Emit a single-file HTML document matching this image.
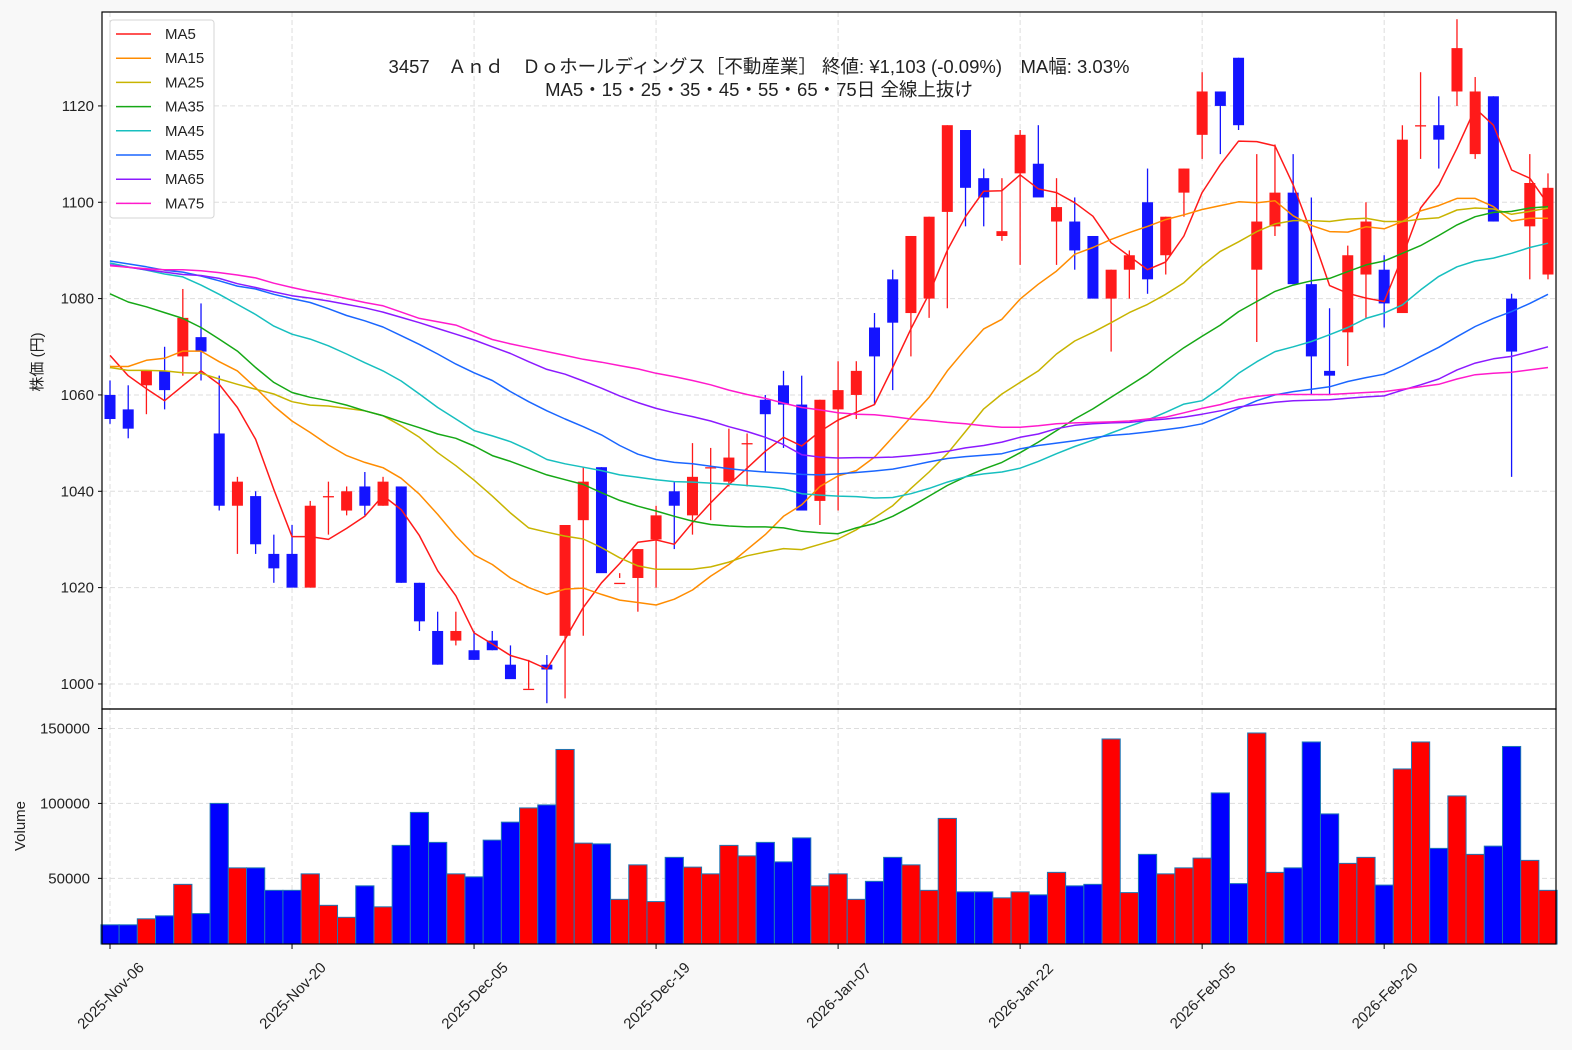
<!DOCTYPE html>
<html><head><meta charset="utf-8">
<style>
html,body{margin:0;padding:0;background:#f8f8f8;}
svg{display:block;font-family:"Liberation Sans","Noto Sans CJK JP",sans-serif;}
</style></head>
<body>
<svg id="chart" width="1572" height="1050" viewBox="0 0 1572 1050" xmlns="http://www.w3.org/2000/svg">
<rect x="0" y="0" width="1572" height="1050" fill="#f8f8f8"/>
<rect x="102" y="12" width="1454" height="697" fill="#ffffff"/>
<rect x="102" y="709" width="1454" height="235" fill="#ffffff"/>
<g id="grid"></g>
<g id="vol"></g>
<g id="candles"></g>
<g id="ma"></g>
<g id="axes"></g>
<g id="legend"></g>
<text x="759" y="73" text-anchor="middle" font-size="18.5" fill="#222">3457　Ａｎｄ　Ｄｏホールディングス［不動産業］ 終値: ¥1,103 (-0.09%)　MA幅: 3.03%</text>
<text x="759" y="96" text-anchor="middle" font-size="18.5" fill="#222">MA5・15・25・35・45・55・65・75日 全線上抜け</text>
<text transform="translate(42,362) rotate(-90)" text-anchor="middle" font-size="15" fill="#222">株価 (円)</text>
<text transform="translate(25,826) rotate(-90)" text-anchor="middle" font-size="15" fill="#222">Volume</text>
</svg>
<script>
const openP=[1060,1057,1062,1065,1068,1072,1052,1037,1039,1027,1027,1020,1039,1036,1041,1037,1041,1021,1011,1009,1007,1009,1004,999,1004,1010,1034,1045,1021,1022,1030,1040,1035,1045,1042,1050,1059,1062,1058,1038,1057,1060,1074,1084,1077,1080,1098,1115,1105,1093,1106,1108,1096,1096,1093,1080,1086,1100,1089,1102,1114,1123,1130,1086,1095,1102,1083,1065,1073,1085,1086,1077,1116,1116,1123,1110,1122,1080,1095,1085];
const closeP=[1055,1053,1065,1061,1076,1069,1037,1042,1029,1024,1020,1037,1039,1040,1037,1042,1021,1013,1004,1011,1005,1007,1001,999,1003,1033,1042,1023,1021,1028,1035,1037,1043,1045,1047,1050,1056,1058,1036,1059,1061,1065,1068,1075,1093,1097,1116,1103,1101,1094,1114,1101,1099,1090,1080,1086,1089,1084,1097,1107,1123,1120,1116,1096,1102,1083,1068,1064,1089,1096,1079,1113,1116,1113,1132,1123,1096,1069,1104,1103];
const highP=[1063,1062,1065,1070,1082,1079,1064,1043,1040,1031,1033,1038,1042,1041,1044,1043,1041,1021,1015,1015,1011,1011,1008,1005,1006,1033,1045,1045,1023,1028,1037,1042,1050,1049,1053,1052,1060,1065,1064,1059,1067,1067,1077,1086,1093,1097,1116,1115,1107,1105,1115,1116,1105,1101,1093,1086,1090,1107,1097,1107,1127,1123,1130,1110,1112,1110,1101,1078,1091,1100,1089,1116,1127,1122,1138,1126,1122,1081,1110,1106];
const lowP=[1054,1051,1056,1057,1064,1063,1036,1027,1027,1021,1020,1020,1031,1035,1035,1037,1021,1011,1004,1008,1005,1007,1002,999,996,997,1010,1033,1022,1015,1020,1028,1031,1034,1041,1041,1044,1049,1048,1033,1036,1055,1058,1061,1068,1076,1078,1095,1095,1092,1087,1106,1087,1086,1080,1069,1080,1081,1085,1097,1109,1110,1115,1071,1093,1083,1060,1060,1066,1076,1074,1077,1109,1107,1120,1109,1096,1043,1084,1084];
const volumes=[19000,19000,23000,25000,46000,26500,100000,57000,57000,42000,42000,53000,32000,24000,45000,31000,72000,94000,74000,53000,51000,75500,87500,97000,99000,136000,73500,73000,36000,59000,34500,64000,57500,53000,72000,65000,74000,61000,77000,45000,53000,36000,48000,64000,59000,42000,90000,41000,41000,37000,41000,39000,54000,45000,46000,143000,40500,66000,53000,57000,63500,107000,46500,147000,54000,57000,141000,93000,60000,64000,45500,123000,141000,70000,105000,66000,71500,138000,62000,42000];
const ma5=[1068.2,1064,1061.3,1058.8,1061.9,1065,1062.2,1057.4,1050.8,1040.4,1030.6,1030.6,1030,1032.3,1034.8,1039.1,1036.2,1030.8,1023.5,1018.3,1010.6,1008.3,1005.9,1004.8,1003.1,1009.3,1015.9,1021,1025,1029.4,1029.9,1029,1033.5,1037.6,1041.4,1044.8,1048.3,1051.2,1049.4,1052.4,1054.8,1056.4,1058,1065.7,1073.7,1081,1090,1097,1102.3,1102.4,1105.7,1102.8,1102,1099.9,1097.1,1091.6,1088.8,1086,1087.6,1093,1102,1107.8,1112.7,1112.6,1111.7,1103.6,1093.6,1082.7,1081.1,1080.1,1079.4,1088.7,1098.8,1103.6,1111.2,1119.5,1116,1106.7,1105,1099.6];
const ma15=[1065.9,1065.9,1067.2,1067.6,1069.1,1069.1,1066.9,1065,1061.5,1057.7,1054.6,1052.2,1049.6,1047.4,1046,1044.9,1042.7,1039.4,1035.2,1030.7,1026.8,1024.8,1022,1020,1018.6,1019.7,1019.9,1018.6,1017.4,1016.9,1016.4,1017.6,1019.5,1022.4,1024.8,1027.9,1031,1034.8,1037.2,1041,1043.2,1044.3,1047.1,1051.2,1055.4,1059.5,1065,1069.5,1073.7,1075.7,1079.9,1083,1085.7,1089.2,1090.6,1092.3,1093.7,1095,1096.4,1097.4,1098.5,1099.3,1100.1,1099.9,1100.3,1097.2,1095.2,1093.9,1093.8,1094.9,1094.5,1096,1098.2,1099.3,1100.8,1100.8,1099.1,1096.1,1096.7,1096.7];
const ma25=[1065.7,1065.1,1065.1,1065,1064.6,1064.5,1063.3,1062.2,1061.2,1060.2,1058.6,1057.9,1057.7,1057.2,1056.7,1055.7,1053.6,1051.2,1048,1045.3,1042.3,1039,1035.5,1032.4,1031.5,1030.7,1030.1,1028.3,1026.2,1024.5,1023.8,1023.8,1023.8,1024.3,1025.3,1026.6,1027.4,1028.1,1027.9,1029,1030.1,1032,1034.5,1037,1040.6,1044,1047.8,1052.4,1057.1,1060.2,1062.6,1065,1068.5,1071.2,1073,1075,1077.1,1078.8,1080.9,1083.3,1086.8,1089.8,1091.8,1093.9,1095.5,1096.2,1096.2,1096,1096.5,1096.7,1096,1096,1096.5,1096.8,1098.4,1098.8,1098.6,1097.5,1098.1,1098.8];
const ma35=[1081,1079.3,1078.3,1077.1,1075.9,1074,1071.6,1069.1,1065.7,1062.6,1060.5,1059.5,1058.8,1057.9,1056.7,1055.7,1054.4,1053.2,1051.9,1051,1049.4,1047.4,1046.2,1044.8,1043.4,1042.4,1041.4,1039.7,1038.1,1036.9,1035.9,1034.8,1033.8,1033.1,1032.8,1032.6,1032.6,1032.4,1031.7,1031.4,1031.2,1032.4,1033.3,1034.8,1036.8,1039,1041.2,1043,1044.6,1046,1048,1050.2,1052.6,1055,1057.1,1059.5,1061.9,1064.3,1067.1,1069.8,1072.2,1074.5,1077.3,1079.4,1081.5,1082.8,1083.7,1084.2,1085.6,1087,1087.8,1089.4,1091,1093.1,1095.3,1097,1097.9,1098.1,1098.8,1099.1];
const ma45=[1087.4,1086.6,1085.9,1085.1,1084.5,1082.8,1080.9,1078.8,1076.7,1074.3,1072.6,1071.6,1070.2,1068.5,1066.7,1065,1062.9,1060.2,1057.4,1055,1052.6,1051.5,1050.3,1048.6,1046.6,1045.7,1045,1044.3,1043.4,1042.9,1042.4,1042,1041.9,1041.7,1041.5,1041.2,1040.9,1040.5,1039.5,1039.2,1039,1038.9,1038.6,1038.7,1039.5,1040.6,1041.9,1043,1043.6,1044,1044.8,1046.2,1047.8,1049.3,1050.6,1052.1,1053.5,1054.8,1056.4,1058.1,1058.8,1061.4,1064.5,1066.9,1069,1070,1071.1,1072.5,1074,1075.9,1077,1078.7,1081.8,1084.6,1086.6,1087.8,1088.4,1089.4,1090.6,1091.5];
const ma55=[1087.8,1087.2,1086.6,1085.9,1085.5,1084.7,1083.7,1082.6,1082,1080.9,1080,1079.2,1077.9,1076.5,1075.4,1074.1,1072.3,1070.5,1068.5,1066.4,1064.6,1063,1060.7,1058.6,1056.7,1055,1053.4,1051.7,1049.5,1047.7,1046.6,1046,1045.7,1045.2,1044.7,1044.3,1044,1043.8,1043.5,1043.4,1043.6,1043.9,1044.2,1044.6,1045.3,1046.1,1046.8,1047.2,1047.5,1047.8,1048.8,1049.5,1050,1050.5,1051.1,1051.6,1051.9,1052.3,1052.8,1053.3,1054,1055.5,1057.2,1058.8,1060,1060.7,1061.2,1061.7,1062.8,1063.6,1064.3,1066,1068,1069.9,1072.1,1074.2,1075.9,1077.3,1079,1080.9];
const ma65=[1087,1086.5,1086,1085.5,1085,1084.8,1084.2,1083.1,1082.3,1081.4,1080.6,1080.1,1079.5,1078.8,1078.1,1077.2,1076.1,1075,1073.8,1072.6,1071.4,1070,1068.6,1066.9,1065.3,1064.3,1062.9,1061.4,1059.8,1058.4,1057.2,1056.3,1055.5,1054.6,1053.4,1052.4,1051.2,1049.7,1047.6,1047.1,1046.9,1047,1047,1047.1,1047.4,1047.8,1048.3,1049,1049.5,1050.2,1051.2,1051.9,1053,1053.7,1054,1054.2,1054.3,1054.7,1055,1055.4,1056,1056.7,1057.5,1058,1058.5,1058.8,1058.9,1059,1059.3,1059.6,1059.8,1061,1062.1,1063.3,1065.2,1066.6,1067.5,1068,1069,1070];
const ma75=[1086.8,1086.5,1086.2,1086,1086,1085.8,1085.4,1084.9,1084.3,1083.2,1082.3,1081.5,1080.8,1080,1079.2,1078.5,1077.2,1075.9,1075.2,1074.5,1073,1071.5,1070.6,1069.8,1069,1068.2,1067.4,1066.8,1066.1,1065.4,1064.5,1063.8,1063,1062.1,1061,1060.1,1059.3,1058.3,1057.4,1056.9,1056.3,1056,1055.9,1055.5,1055,1054.7,1054.3,1054,1053.6,1053.3,1053.3,1053.6,1054,1054.2,1054.3,1054.4,1054.6,1055,1055.4,1056.3,1057.2,1058,1059.1,1059.7,1060.1,1060.1,1060.1,1060.1,1060.3,1060.5,1060.7,1061.2,1061.7,1062.2,1063.3,1064.2,1064.5,1064.7,1065.2,1065.7];
const maNames=["MA5","MA15","MA25","MA35","MA45","MA55","MA65","MA75"];
const maColors=["#ff1a1a","#ff8c00","#c8b400","#16a816","#17bfbf","#1a66ff","#8c1aff","#ff1acc"];
const priceTicks=[1000,1020,1040,1060,1080,1100,1120];
const volTicks=[50000,100000,150000];
const dateLabels=["2025-Nov-06","2025-Nov-20","2025-Dec-05","2025-Dec-19","2026-Jan-07","2026-Jan-22","2026-Feb-05","2026-Feb-20"];
const dateIdx=[0,10,20,30,40,50,60,70];

const NS="http://www.w3.org/2000/svg";
const L=102,R=1556,PT=12,PB=709,VT=709,VB=944;
const xMin=-0.44,xMax=79.44;
const yMin=994.8,yMax=1139.5;
const vMin=6200,vMax=163000;
const xs=i=>L+(i-xMin)/(xMax-xMin)*(R-L);
const yp=p=>PB-(p-yMin)/(yMax-yMin)*(PB-PT);
const yv=v=>VB-(v-vMin)/(vMax-vMin)*(VB-VT);
const step=(R-L)/(xMax-xMin);
function mk(tag,attrs,parent){const e=document.createElementNS(NS,tag);for(const k in attrs)e.setAttribute(k,attrs[k]);parent.appendChild(e);return e;}
const g=id=>document.getElementById(id);

const grid=g('grid');
priceTicks.forEach(t=>{const l=mk('line',{x1:L,x2:R,y1:yp(t),y2:yp(t),stroke:'#dddddd','stroke-dasharray':'5,3','stroke-width':1},grid);

});
volTicks.forEach(t=>{const l=mk('line',{x1:L,x2:R,y1:yv(t),y2:yv(t),stroke:'#dddddd','stroke-dasharray':'5,3','stroke-width':1},grid);

});
dateIdx.forEach(i=>{[[PT,PB],[VT,VB]].forEach(r=>{const l=mk('line',{x1:xs(i),x2:xs(i),y1:r[0],y2:r[1],stroke:'#dddddd','stroke-dasharray':'5,3','stroke-width':1},grid);

});});

const vol=g('vol');
volumes.forEach((v,i)=>{const up=closeP[i]>=openP[i];const y=yv(v);
const b=mk('rect',{x:xs(i)-step/2,y:y,width:step,height:VB-y,fill:up?'#ff0000':'#0000ff',stroke:'#1f77b4','stroke-width':1},vol);

});

const cg=g('candles');
openP.forEach((o,i)=>{const c=closeP[i];const up=c>=o;const col=up?'#ff1a1a':'#1414ff';const x=xs(i);
const w=mk('line',{x1:x,x2:x,y1:yp(highP[i]),y2:yp(lowP[i]),stroke:col,'stroke-width':1.3},cg);


const top=yp(Math.max(o,c)),bot=yp(Math.min(o,c));
const b=mk('rect',{x:x-5.5,y:top,width:11,height:Math.max(bot-top,1.3),fill:col},cg);

});

const maArr=[ma5,ma15,ma25,ma35,ma45,ma55,ma65,ma75];
const mg=g('ma');
maArr.forEach((arr,k)=>{const d=arr.map((v,i)=>(i?'L':'M')+xs(i).toFixed(1)+','+yp(v).toFixed(1)).join('');
const p=mk('path',{d:d,fill:'none',stroke:maColors[k],'stroke-width':1.5,'stroke-linejoin':'round'},mg);

});

const ax=g('axes');
const f1=mk('rect',{x:L,y:PT,width:R-L,height:PB-PT,fill:'none',stroke:'#000','stroke-width':1.2},ax);


const f2=mk('rect',{x:L,y:VT,width:R-L,height:VB-VT,fill:'none',stroke:'#000','stroke-width':1.2},ax);


priceTicks.forEach(t=>{const y=yp(t);mk('line',{x1:L-4,x2:L,y1:y,y2:y,stroke:'#000'},ax);
const tx=mk('text',{x:L-8,y:y+5,'text-anchor':'end','font-size':15,fill:'#222'},ax);tx.textContent=t;

});
volTicks.forEach(t=>{const y=yv(t);mk('line',{x1:L-4,x2:L,y1:y,y2:y,stroke:'#000'},ax);
const tx=mk('text',{x:L-12,y:y+5,'text-anchor':'end','font-size':15,fill:'#222'},ax);tx.textContent=t;

});
dateIdx.forEach((i,k)=>{const x=xs(i);mk('line',{x1:x,x2:x,y1:VB,y2:VB+5,stroke:'#000'},ax);
const tx=mk('text',{transform:`translate(${x+1},${996}) rotate(-45)`,'text-anchor':'middle','dominant-baseline':'central','font-size':15,fill:'#222'},ax);tx.textContent=dateLabels[k];

});

const lg=g('legend');
const box=mk('rect',{x:110,y:20,width:104,height:198,rx:3,fill:'#ffffff','fill-opacity':0.85,stroke:'#d6d6d6'},lg);


maNames.forEach((n,k)=>{const y=34+k*24.2;
const ln=mk('line',{x1:116,x2:151,y1:y,y2:y,stroke:maColors[k],'stroke-width':1.5},lg);


const tx=mk('text',{x:165,y:y+5,'font-size':15,fill:'#222'},lg);tx.textContent=n;

});
</script>
</body></html>
